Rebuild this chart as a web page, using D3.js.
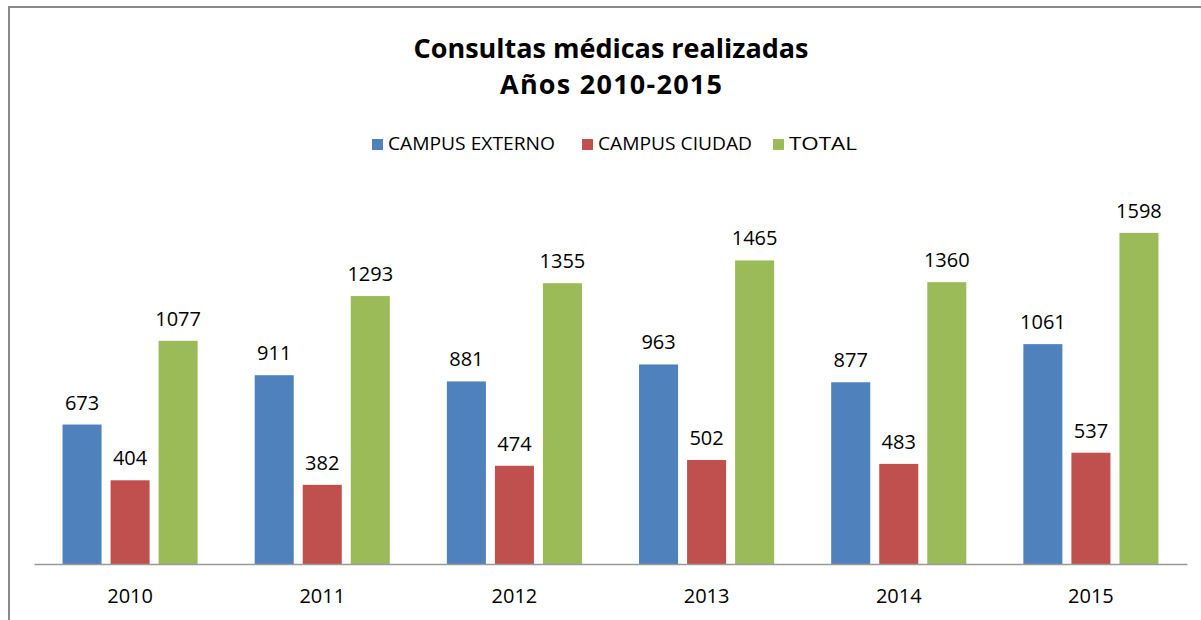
<!DOCTYPE html>
<html>
<head>
<meta charset="utf-8">
<script src="https://cdn.jsdelivr.net/npm/d3@7"></script>
<style>
  html, body { margin: 0; padding: 0; background: #fff; }
  svg { display: block; }
</style>
</head>
<body>
<svg id="chart" width="1201" height="620"></svg>
<script>
const years = ["2010", "2011", "2012", "2013", "2014", "2015"];
const seriesNames = ["CAMPUS EXTERNO", "CAMPUS CIUDAD", "TOTAL"];
const campusExterno = [673, 911, 881, 963, 877, 1061];
const campusCiudad = [404, 382, 474, 502, 483, 537];
const total = [1077, 1293, 1355, 1465, 1360, 1598];
const seriesColors = ["#4F81BD", "#C0504D", "#9BBB59"];
const titleLines = ["Consultas médicas realizadas", "Años 2010-2015"];

const seriesValues = [campusExterno, campusCiudad, total];
const svg = d3.select("#chart");
const font = "'Open Sans', 'Noto Sans', sans-serif";

// frame (cropped chart border)
svg.append("rect")
  .attr("x", 9).attr("y", 7)
  .attr("width", 1250).attr("height", 700)
  .attr("fill", "none").attr("stroke", "#8a8a8a").attr("stroke-width", 2);

const x0 = d3.scaleBand().domain(years).range([34, 1187]).padding(0);
const x1 = d3.scaleBand().domain(seriesNames).range([0, x0.bandwidth()])
  .paddingInner(0.1875).paddingOuter(0.594);
const y = d3.scaleLinear().domain([0, 1800]).range([564, 191]);

// bars
const rows = years.map((yr, i) => ({
  year: yr,
  items: seriesNames.map((s, k) => ({ series: s, value: seriesValues[k][i], color: seriesColors[k] }))
}));

const groups = svg.append("g").selectAll("g").data(rows).join("g")
  .attr("transform", d => `translate(${x0(d.year)},0)`);

groups.selectAll("rect").data(d => d.items).join("rect")
  .attr("x", d => x1(d.series))
  .attr("y", d => y(d.value))
  .attr("width", x1.bandwidth())
  .attr("height", d => y(0) - y(d.value))
  .attr("fill", d => d.color);

groups.selectAll("text").data(d => d.items).join("text")
  .attr("x", d => x1(d.series) + x1.bandwidth() / 2)
  .attr("y", d => y(d.value) - 15)
  .attr("text-anchor", "middle")
  .attr("font-family", font)
  .attr("font-size", 20)
  .attr("fill", "#000")
  .text(d => d.value);

// x axis
const axis = svg.append("g")
  .attr("transform", `translate(0,${y(0)})`)
  .call(d3.axisBottom(x0).tickSize(0).tickPadding(0));
axis.select(".domain").attr("stroke", "#9a9a9a").attr("stroke-width", 1.5);
axis.selectAll(".tick text")
  .attr("y", 39).attr("dy", 0)
  .attr("font-family", font)
  .attr("font-size", 20)
  .attr("fill", "#000");

// title
const titleWidths = [395, 222];
svg.append("g").selectAll("text").data(titleLines).join("text")
  .attr("x", 611)
  .attr("y", (d, i) => 58 + i * 36)
  .attr("text-anchor", "middle")
  .attr("font-family", font)
  .attr("font-weight", "bold")
  .attr("font-size", 27)
  .attr("fill", "#000")
  .attr("textLength", (d, i) => titleWidths[i])
  .attr("lengthAdjust", "spacing")
  .text(d => d);

// legend
const legendX = [372, 582, 773];
const legendW = [167, 154, 68];
const legend = svg.append("g");
seriesNames.forEach((s, k) => {
  legend.append("rect")
    .attr("x", legendX[k]).attr("y", 139).attr("width", 11).attr("height", 11)
    .attr("fill", seriesColors[k]);
  legend.append("text")
    .attr("x", legendX[k] + 16).attr("y", 150)
    .attr("font-family", font)
    .attr("font-size", 18)
    .attr("fill", "#000")
    .attr("textLength", legendW[k])
    .attr("lengthAdjust", "spacingAndGlyphs")
    .text(s);
});
</script>
</body>
</html>
